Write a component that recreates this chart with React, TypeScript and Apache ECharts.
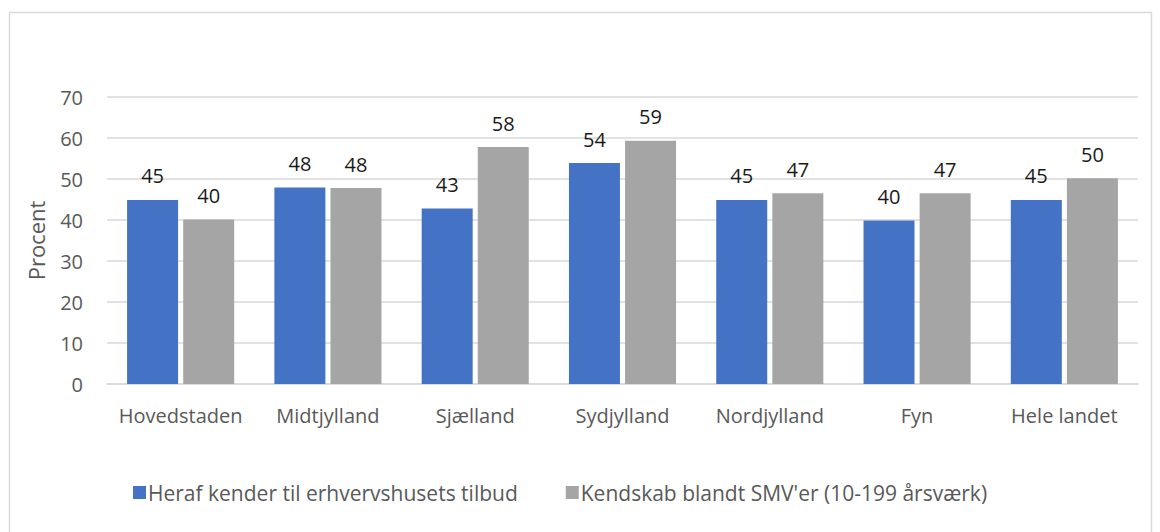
import React, { useEffect, useRef } from "react";
import * as echarts from "echarts";

const categories = ["Hovedstaden", "Midtjylland", "Sjælland", "Sydjylland", "Nordjylland", "Fyn", "Hele landet"];
const seriesNames = ["Heraf kender til erhvervshusets tilbud", "Kendskab blandt SMV'er (10-199 årsværk)"];
const heraf = [44.9, 47.9, 42.8, 53.9, 44.9, 39.9, 44.9];
const kendskab = [40.1, 47.8, 57.8, 59.3, 46.5, 46.5, 50.2];
const yTicks = { min: 0, max: 70, interval: 10 };

const FONT = "'Open Sans', sans-serif";

export default function App() {
  const ref = useRef<HTMLDivElement>(null);
  useEffect(() => {
    document.body.style.margin = "0";
    const chart = echarts.init(ref.current!, null, { renderer: "svg" });
    const label = {
      show: true,
      position: "top",
      distance: 14,
      color: "#1a1a1a",
      fontSize: 20,
      fontFamily: FONT,
      formatter: (p: any) => String(Math.round(p.value)),
    };
    chart.setOption({
      animation: false,
      textStyle: { fontFamily: FONT },
      graphic: [
        {
          type: "rect",
          shape: { x: 9.5, y: 12.5, width: 1142, height: 600 },
          style: { fill: "none", stroke: "#D9D9D9", lineWidth: 1.5 },
          silent: true,
        },
      ],
      legend: {
        left: 128,
        top: 477,
        itemWidth: 13,
        itemHeight: 13,
        itemGap: 48,
        icon: "rect",
        textStyle: { fontSize: 21, color: "#595959", fontFamily: FONT, padding: [0, 0, 0, -3] },
        data: seriesNames,
      },
      grid: { left: 107, right: 22, top: 97, bottom: 148, containLabel: false },
      xAxis: {
        type: "category",
        data: categories,
        axisLine: { lineStyle: { color: "#D9D9D9", width: 1.5 } },
        axisTick: { show: false },
        axisLabel: { color: "#595959", fontSize: 20, fontFamily: FONT, margin: 21, interval: 0 },
      },
      yAxis: {
        type: "value",
        min: yTicks.min,
        max: yTicks.max,
        interval: yTicks.interval,
        name: "Procent",
        nameLocation: "middle",
        nameGap: 60,
        nameTextStyle: { color: "#595959", fontSize: 22, fontFamily: FONT },
        axisLine: { show: false },
        axisTick: { show: false },
        splitLine: { lineStyle: { color: "#D9D9D9", width: 1.5 } },
        axisLabel: { color: "#595959", fontSize: 20, fontFamily: FONT, margin: 24 },
      },
      series: [
        {
          name: seriesNames[0],
          type: "bar",
          data: heraf,
          itemStyle: { color: "#4472C4" },
          barWidth: 51,
          barGap: "10%",
          label,
        },
        {
          name: seriesNames[1],
          type: "bar",
          data: kendskab,
          itemStyle: { color: "#A5A5A5" },
          barWidth: 51,
          label,
        },
      ],
    });
    return () => chart.dispose();
  }, []);
  return <div ref={ref} style={{ width: 1160, height: 532 }} />;
}
